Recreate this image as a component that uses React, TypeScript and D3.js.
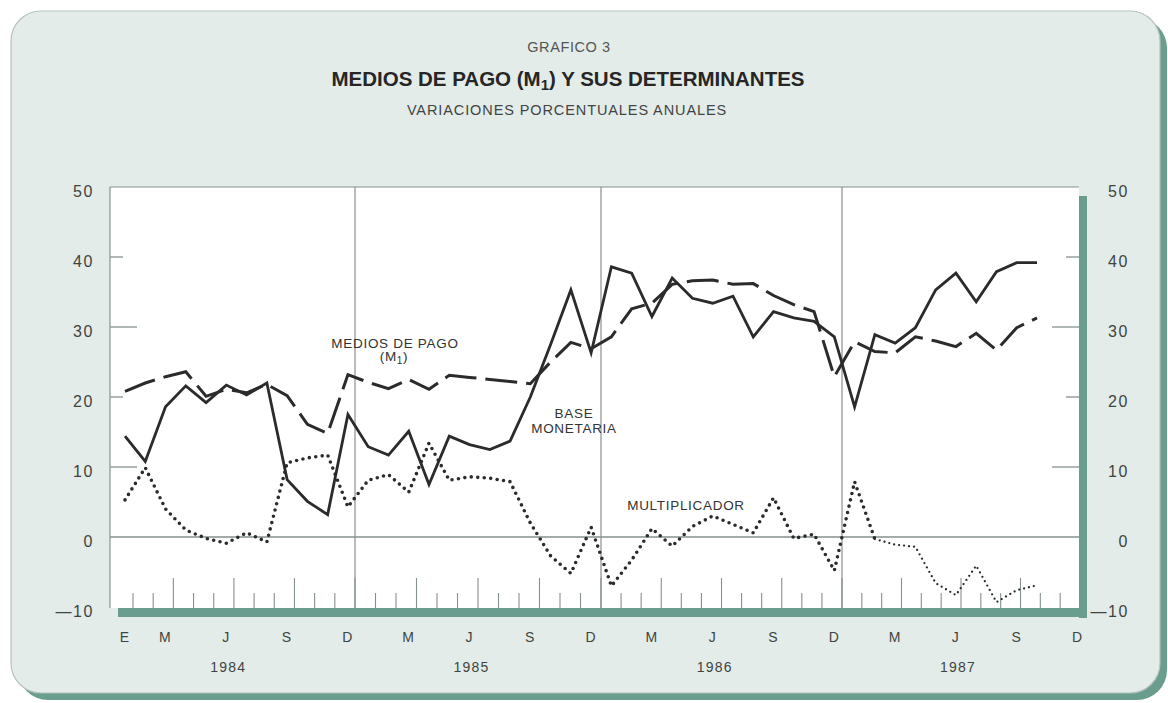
import React from 'react'
import * as d3 from 'd3'

// monthly annual % changes, Jan 1984 .. Oct 1987
const baseMonetaria = [
  14.4, 10.8, 18.6, 21.6, 19.2, 21.7, 20.3, 22.0, 8.2, 5.1, 3.2, 17.5,
  12.9, 11.7, 15.1, 7.5, 14.4, 13.2, 12.5, 13.7, 20.0, 27.5, 35.3, 26.3,
  38.6, 37.7, 31.5, 37.0, 34.1, 33.4, 34.4, 28.6, 32.2, 31.3, 30.8, 28.6,
  18.6, 28.9, 27.7, 29.9, 35.3, 37.7, 33.6, 37.9, 39.2, 39.2
]
const mediosDePago = [
  20.8, 22.0, 22.9, 23.6, 20.1, 21.1, 20.6, 21.8, 20.2, 16.1, 14.8, 23.2,
  22.1, 21.2, 22.5, 21.1, 23.1, 22.8, 22.5, 22.2, 21.9, 25.0, 27.8, 26.9,
  28.6, 32.6, 33.4, 36.1, 36.6, 36.7, 36.1, 36.2, 34.5, 33.2, 32.2, 22.9,
  27.9, 26.5, 26.3, 28.6, 28.0, 27.2, 29.1, 26.7, 29.9, 31.3
]
const multiplicador = [
  5.3, 9.9, 4.0, 1.0, -0.2, -0.9, 0.6, -0.7, 10.6, 11.3, 11.7, 4.3,
  8.1, 8.9, 6.4, 13.4, 8.1, 8.6, 8.4, 7.9, 2.0, -2.7, -5.2, 1.4,
  -7.0, -3.3, 1.2, -1.3, 1.5, 3.0, 1.8, 0.6, 5.6, -0.2, 0.4, -4.8,
  7.9, -0.3, -1.1, -1.4, -6.6, -8.3, -4.1, -9.3, -7.6, -6.9
]
const years = ['1984', '1985', '1986', '1987']
const monthLabels = ['E', 'M', 'J', 'S', 'D']
const monthLabelIdx = [0, 2, 5, 8, 11]
const yTicks = [-10, 0, 10, 20, 30, 40, 50]

const FONT = '"Liberation Sans", Arial, Helvetica, sans-serif'
const INK = '#2b2b2b'
const GRID = '#86918d'
const TEAL = '#6a9d8d'

export default function App () {
  const left = 110
  const right = 1079
  const top = 187
  const bottom = 608

  const y = d3.scaleLinear().domain([-10, 50]).range([607, 187])
  const xData = d3.scaleLinear().domain([0, 45]).range([125, 1037])
  // hand-drawn axis: year ends are not quite evenly spaced
  const xTick = d3.scaleLinear().domain([0, 11, 23, 35, 47]).range([133, 355, 601, 842, 1080])

  const line = d3.line<number>()
    .x((d, i) => xData(i))
    .y(d => y(d))

  const multThick = multiplicador.slice(0, 38)
  const multThin = multiplicador.slice(37)
  const lineThin = d3.line<number>()
    .x((d, i) => xData(i + 37))
    .y(d => y(d))

  const monthTicks = d3.range(0, 47)
  const fmt = (v: number) => (v < 0 ? '—' + Math.abs(v) : String(v))

  return (
    <svg width={1168} height={703} style={{ position: 'absolute', left: 0, top: 0 }} fontFamily={FONT}>
      <rect x={0} y={0} width={1168} height={703} fill='#fff' />
      {/* panel with teal shadow */}
      <rect x={18} y={18} width={1149} height={682} rx={30} fill={TEAL} />
      <rect x={11} y={11} width={1149} height={682} rx={30} fill='#e3ece8' stroke='#b7c2bd' strokeWidth={1.2} />

      {/* titles */}
      <text x={569} y={52} textAnchor='middle' fontSize={14.5} letterSpacing={0.6} fill='#555'>GRAFICO 3</text>
      <text x={568} y={86} textAnchor='middle' fontSize={20.5} fontWeight={700} fill='#262626'>
        MEDIOS DE PAGO (M<tspan fontSize={15} dy={4}>1</tspan><tspan dy={-4}>) Y SUS DETERMINANTES</tspan>
      </text>
      <text x={567} y={115} textAnchor='middle' fontSize={14.5} letterSpacing={0.9} fill='#444'>VARIACIONES PORCENTUALES ANUALES</text>

      {/* plot shadow and area */}
      <rect x={right} y={top + 9} width={8} height={bottom - top + 1} fill={TEAL} />
      <rect x={left + 8} y={bottom} width={right - left} height={9} fill={TEAL} />
      <rect x={left} y={top} width={right - left} height={bottom - top} fill='#fff' />
      <line x1={left} x2={left} y1={top} y2={bottom} stroke={GRID} strokeWidth={1.2} />
      <line x1={left} x2={right} y1={top} y2={top} stroke={GRID} strokeWidth={1.2} />

      {/* year dividers */}
      {[11, 23, 35].map(m => (
        <line key={m} x1={xTick(m)} x2={xTick(m)} y1={top} y2={bottom} stroke={GRID} strokeWidth={1.2} />
      ))}
      {/* zero line */}
      <line x1={left} x2={right} y1={y(0)} y2={y(0)} stroke={GRID} strokeWidth={1.5} />

      {/* y ticks */}
      {[10, 20, 30, 40].map(v => {
        const len = v % 20 === 10 ? 27 : 13
        return (
          <g key={v}>
            <line x1={left} x2={left + len} y1={y(v)} y2={y(v)} stroke={GRID} strokeWidth={1.3} />
            <line x1={right - len} x2={right} y1={y(v)} y2={y(v)} stroke={GRID} strokeWidth={1.3} />
          </g>
        )
      })}
      {yTicks.map(v => (
        <g key={v} fontSize={16} letterSpacing={1.6} fill='#3e4441'>
          <text x={94} y={y(v) + 10} textAnchor='end'>{fmt(v)}</text>
          <text x={1129} y={y(v) + 10} textAnchor='end'>{fmt(v)}</text>
        </g>
      ))}

      {/* month ticks */}
      {monthTicks.map(m => {
        const long = m % 3 === 2
        return (
          <line key={m} x1={xTick(m)} x2={xTick(m)} y1={bottom} y2={bottom - (long ? 30 : 15)}
            stroke={GRID} strokeWidth={1.1} />
        )
      })}

      {/* series */}
      <path d={line(mediosDePago) || ''} fill='none' stroke={INK} strokeWidth={3} strokeDasharray='32 9' />
      <path d={line(baseMonetaria) || ''} fill='none' stroke={INK} strokeWidth={2.8} strokeLinejoin='miter' />
      <path d={line(multThick) || ''} fill='none' stroke={INK} strokeWidth={3.6}
        strokeDasharray='0 6.5' strokeLinecap='round' />
      <path d={lineThin(multThin) || ''} fill='none' stroke={INK} strokeWidth={2.3}
        strokeDasharray='0 5' strokeLinecap='round' />

      {/* series labels */}
      <g fontSize={13.5} fill='#333' textAnchor='middle' letterSpacing={0.7}>
        <text x={395} y={348}>MEDIOS DE PAGO</text>
        <text x={394} y={361}>(M<tspan fontSize={10} dy={3}>1</tspan><tspan dy={-3}>)</tspan></text>
        <text x={574} y={418}>BASE</text>
        <text x={574} y={433}>MONETARIA</text>
        <text x={686} y={510}>MULTIPLICADOR</text>
      </g>

      {/* x labels */}
      {years.map((yr, yi) => (
        <g key={yr} fontSize={14} letterSpacing={1.2} fill='#3e4441' textAnchor='middle'>
          {monthLabels.map((ml, k) => (yi > 0 && k === 0) ? null : (
            <text key={k} x={xData(yi * 12 + monthLabelIdx[k])} y={642}>{ml}</text>
          ))}
          <text x={xData(yi * 12 + 5) + 2} y={672}>{yr}</text>
        </g>
      ))}
    </svg>
  )
}
